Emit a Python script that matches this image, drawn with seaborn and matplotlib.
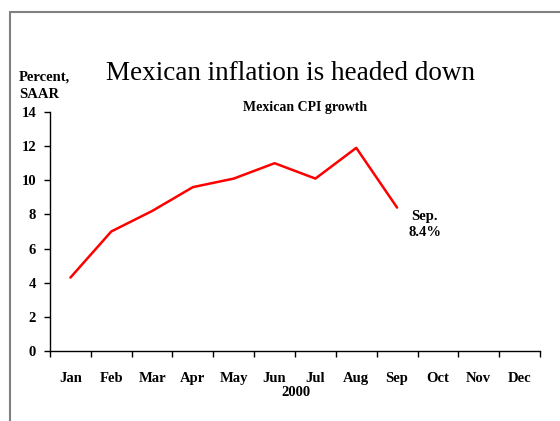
import numpy as np
import pandas as pd
import matplotlib
matplotlib.use("Agg")
import matplotlib.pyplot as plt
import seaborn as sns
from matplotlib.lines import Line2D

months = ["Jan", "Feb", "Mar", "Apr", "May", "Jun", "Jul", "Aug", "Sep", "Oct", "Nov", "Dec"]
cpi_growth = [4.3, 7.0, 8.2, 9.6, 10.1, 11.0, 10.1, 11.9, 8.4]
y_ticks = [0, 2, 4, 6, 8, 10, 12, 14]

sns.set_style("white")
plt.rcParams['font.family'] = ['Liberation Serif', 'DejaVu Serif']
plt.rcParams['text.color'] = 'black'
plt.rcParams['xtick.color'] = 'black'
plt.rcParams['ytick.color'] = 'black'
plt.rcParams['axes.labelcolor'] = 'black'

fig = plt.figure(figsize=(5.6, 4.21), dpi=100)
ax = fig.add_axes([50/560, 1-351/421, 490/560, (351-112)/421])

df = pd.DataFrame({"idx": np.arange(len(cpi_growth)), "val": cpi_growth})
sns.lineplot(data=df, x="idx", y="val", ax=ax, color="#ff0000", linewidth=1.8)

ax.set_xlim(-0.5, len(months) - 0.5)
ax.set_ylim(0, 14)
ax.set_xticks(np.arange(-0.5, len(months)), labels=[""] * (len(months) + 1))
ax.set_xticks(np.arange(len(months)), labels=months, minor=True)
ax.tick_params(axis="x", which="major", direction="out", length=4, width=1, color="black", bottom=True)
ax.tick_params(axis="x", which="minor", length=0, pad=15, labelsize=10.5, labelcolor="black")
ax.set_yticks(y_ticks, labels=[str(v) for v in y_ticks])
ax.tick_params(axis="y", direction="out", length=4, width=1, color="black", left=True, labelsize=10.5, pad=6, labelcolor="black")
for lab in ax.get_xticklabels(minor=True) + ax.get_yticklabels():
    lab.set_fontweight("bold")

for s in ["top", "right"]:
    ax.spines[s].set_visible(False)
for s in ["left", "bottom"]:
    ax.spines[s].set_color("black")
    ax.spines[s].set_linewidth(1)
ax.set_xlabel("")
ax.set_ylabel("")

fig.text(290/560, 1-73/421, "Mexican inflation is headed down", ha="center", va="center", fontsize=19.5)
fig.text(305/560, 1-107/421, "Mexican CPI growth", ha="center", va="center", fontsize=10, fontweight="bold")
fig.text(19/560, 1-86/421, "Percent,\nSAAR", ha="left", va="center", fontsize=10.5, fontweight="bold", linespacing=1.5)
fig.text(296/560, 1-393/421, "2000", ha="center", va="center", fontsize=10.5, fontweight="bold")
ax.annotate("Sep.\n8.4%", xy=(8, cpi_growth[-1]), xytext=(20, -12), textcoords="offset points",
            ha="center", va="center", fontsize=10.5, fontweight="bold", linespacing=1.3)

fig.add_artist(Line2D([10/560, 10/560], [0, 1-12/421], transform=fig.transFigure, color="#808080", linewidth=1.5))
fig.add_artist(Line2D([10/560, 1], [1-12/421, 1-12/421], transform=fig.transFigure, color="#808080", linewidth=1.5))

fig.savefig("out.png", dpi=100)
